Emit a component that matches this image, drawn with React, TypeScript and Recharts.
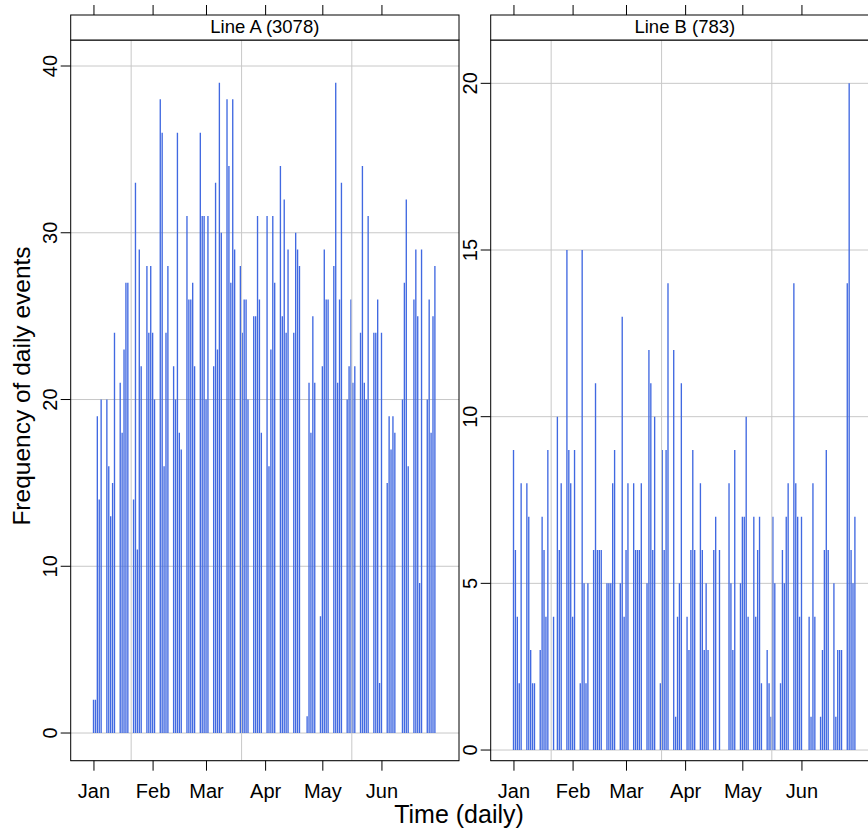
import React from 'react';
import { BarChart, Bar, XAxis, YAxis, CartesianGrid, ReferenceLine } from 'recharts';

// Daily event counts (Mon-Fri only), 2018-01-01 .. 2018-06-29
const lineA = [
  2, 2, 19, 14, 20,
  20, 16, 13, 15, 24,
  21, 18, 23, 27, 27,
  14, 33, 11, 29, 22,
  28, 24, 28, 24, 20,
  38, 36, 16, 24, 28,
  22, 20, 36, 18, 17,
  31, 26, 26, 27, 22,
  36, 31, 31, 20, 31,
  22, 33, 23, 39, 30,
  38, 34, 27, 38, 29,
  28, 24, 26, 26, 20,
  25, 25, 31, 26, 18,
  31, 16, 23, 31, 27,
  34, 25, 32, 24, 29,
  24, 30, 29, 28, 0,
  1, 21, 18, 25, 21,
  7, 22, 29, 26, 26,
  28, 39, 21, 26, 33,
  20, 22, 26, 21, 22,
  24, 34, 21, 20, 31,
  24, 24, 26, 3, 24,
  15, 19, 17, 19, 18,
  0, 20, 27, 32, 16,
  26, 29, 25, 9, 29,
  20, 26, 18, 25, 28,
];

const lineB = [
  9, 6, 4, 2, 8,
  8, 7, 3, 2, 2,
  3, 7, 6, 4, 9,
  4, 0, 10, 6, 8,
  15, 9, 8, 4, 9,
  2, 15, 5, 2, 5,
  6, 11, 6, 6, 6,
  5, 5, 5, 8, 9,
  5, 13, 4, 6, 8,
  8, 6, 6, 6, 8,
  5, 12, 11, 6, 10,
  2, 9, 6, 9, 14,
  12, 1, 4, 5, 11,
  4, 3, 6, 9, 6,
  8, 6, 3, 5, 3,
  6, 7, 0, 6, 0,
  0, 8, 5, 3, 9,
  5, 7, 7, 10, 4,
  7, 4, 6, 7, 2,
  3, 2, 1, 7, 5,
  2, 6, 5, 7, 8,
  14, 8, 7, 4, 7,
  0, 4, 1, 8, 4,
  1, 3, 6, 9, 6,
  5, 1, 3, 3, 3,
  14, 20, 6, 5, 7,
];

const monthLabels = ['Jan', 'Feb', 'Mar', 'Apr', 'May', 'Jun'];
const monthStarts = [0, 31, 59, 90, 120, 151]; // days since 2018-01-01
const gridDays = [19.5, 77.4, 135.2];
const yTicksA = [0, 10, 20, 30, 40];
const yTicksB = [0, 5, 10, 15, 20];
const xDomain: [number, number] = [-12.2, 191.4];
const yDomainA: [number, number] = [-1.66, 41.56];
const yDomainB: [number, number] = [-0.32, 21.3];

const START = Date.UTC(2018, 0, 1);
const END = Date.UTC(2018, 5, 29);
const DAY = 86400000;

function weekdayIndex(): number[] {
  const out: number[] = [];
  for (let t = START; t <= END; t += DAY) {
    const d = new Date(t).getUTCDay();
    if (d !== 0 && d !== 6) out.push((t - START) / DAY);
  }
  return out;
}
const days = weekdayIndex();
const dataA = days.map((day, i) => ({ day, count: lineA[i] }));
const dataB = days.map((day, i) => ({ day, count: lineB[i] }));

const BLUE = '#4169E1';
const GRID = '#c8c8c8';
const FONT = '"Liberation Sans", Arial, Helvetica, sans-serif';

const PLOT_TOP = 40;
const PLOT_BOTTOM = 760.7;
const CHART_W = 470;
const CHART_H = 829;
const Y_AXIS_W = 70.7;

const Stick = (p: any) => {
  const { x, y, width, height } = p;
  if (!height || height <= 0) return null;
  const cx = x + width / 2;
  return <line x1={cx} x2={cx} y1={y} y2={y + height} stroke={BLUE} strokeWidth={1.35} />;
};

const MonthTick = (p: any) => {
  const { x, payload } = p;
  const i = monthStarts.indexOf(payload.value);
  return (
    <g>
      <line x1={x} x2={x} y1={PLOT_BOTTOM} y2={PLOT_BOTTOM + 10} stroke="#000" strokeWidth={1} />
      <line x1={x} x2={x} y1={5} y2={15} stroke="#000" strokeWidth={1} />
      <text x={x} y={798} textAnchor="middle" fontSize={20} fontFamily={FONT} fill="#000">
        {monthLabels[i]}
      </text>
    </g>
  );
};

const RotTick = (p: any) => {
  const { x, y, payload } = p;
  return (
    <text
      x={x}
      y={y}
      transform={`rotate(-90, ${x}, ${y})`}
      textAnchor="middle"
      fontSize={20}
      fontFamily={FONT}
      fill="#000"
    >
      {payload.value}
    </text>
  );
};

function Panel({ data, yDomain, yTicks, left }: { data: any[]; yDomain: [number, number]; yTicks: number[]; left: number }) {
  return (
    <div style={{ position: 'absolute', left, top: 0, width: CHART_W, height: CHART_H }}>
      <BarChart
        width={CHART_W}
        height={CHART_H}
        data={data}
        margin={{ top: PLOT_TOP, right: CHART_W - 459, left: 0, bottom: 0 }}
        barSize={1}
      >
        <CartesianGrid stroke={GRID} strokeWidth={1} vertical={false} />
        {gridDays.map((d) => (
          <ReferenceLine key={d} x={d} stroke={GRID} strokeWidth={1} />
        ))}
        <XAxis
          dataKey="day"
          type="number"
          domain={xDomain}
          ticks={monthStarts}
          interval={0}
          allowDataOverflow
          tick={<MonthTick />}
          tickLine={false}
          axisLine={false}
          height={CHART_H - PLOT_BOTTOM}
        />
        <YAxis
          type="number"
          domain={yDomain}
          ticks={yTicks}
          interval={0}
          allowDataOverflow
          width={Y_AXIS_W}
          tickSize={10}
          tickMargin={3.7}
          tickLine={{ stroke: '#000' }}
          axisLine={false}
          tick={<RotTick />}
        />
        <Bar dataKey="count" fill={BLUE} shape={<Stick />} isAnimationActive={false} />
      </BarChart>
    </div>
  );
}

export default function App() {
  const panels = [
    { x0: 70.7, label: 'Line A (3078)' },
    { x0: 490.7, label: 'Line B (783)' },
  ];
  const pw = 388.3;
  return (
    <div style={{ position: 'absolute', left: 0, top: 0, width: 868, height: 829, overflow: 'hidden', background: '#fff', fontFamily: FONT }}>
      <Panel data={dataA} yDomain={yDomainA} yTicks={yTicksA} left={0} />
      <Panel data={dataB} yDomain={yDomainB} yTicks={yTicksB} left={420} />
      <svg width={940} height={829} style={{ position: 'absolute', left: 0, top: 0, pointerEvents: 'none' }}>
        {panels.map((p) => (
          <g key={p.label}>
            <rect x={p.x0} y={PLOT_TOP} width={pw} height={PLOT_BOTTOM - PLOT_TOP} fill="none" stroke="#000" strokeWidth={1} />
            <rect x={p.x0} y={15} width={pw} height={PLOT_TOP - 15} fill="#fff" stroke="#000" strokeWidth={1} />
            <text x={p.x0 + pw / 2} y={33.3} textAnchor="middle" fontSize={18.5} fontFamily={FONT} fill="#000">
              {p.label}
            </text>
          </g>
        ))}
        <text
          x={30}
          y={386}
          transform="rotate(-90, 30, 386)"
          textAnchor="middle"
          fontSize={24.5}
          fontFamily={FONT}
          fill="#000"
        >
          Frequency of daily events
        </text>
        <text x={459} y={823} textAnchor="middle" fontSize={25} fontFamily={FONT} fill="#000">
          Time (daily)
        </text>
      </svg>
    </div>
  );
}
